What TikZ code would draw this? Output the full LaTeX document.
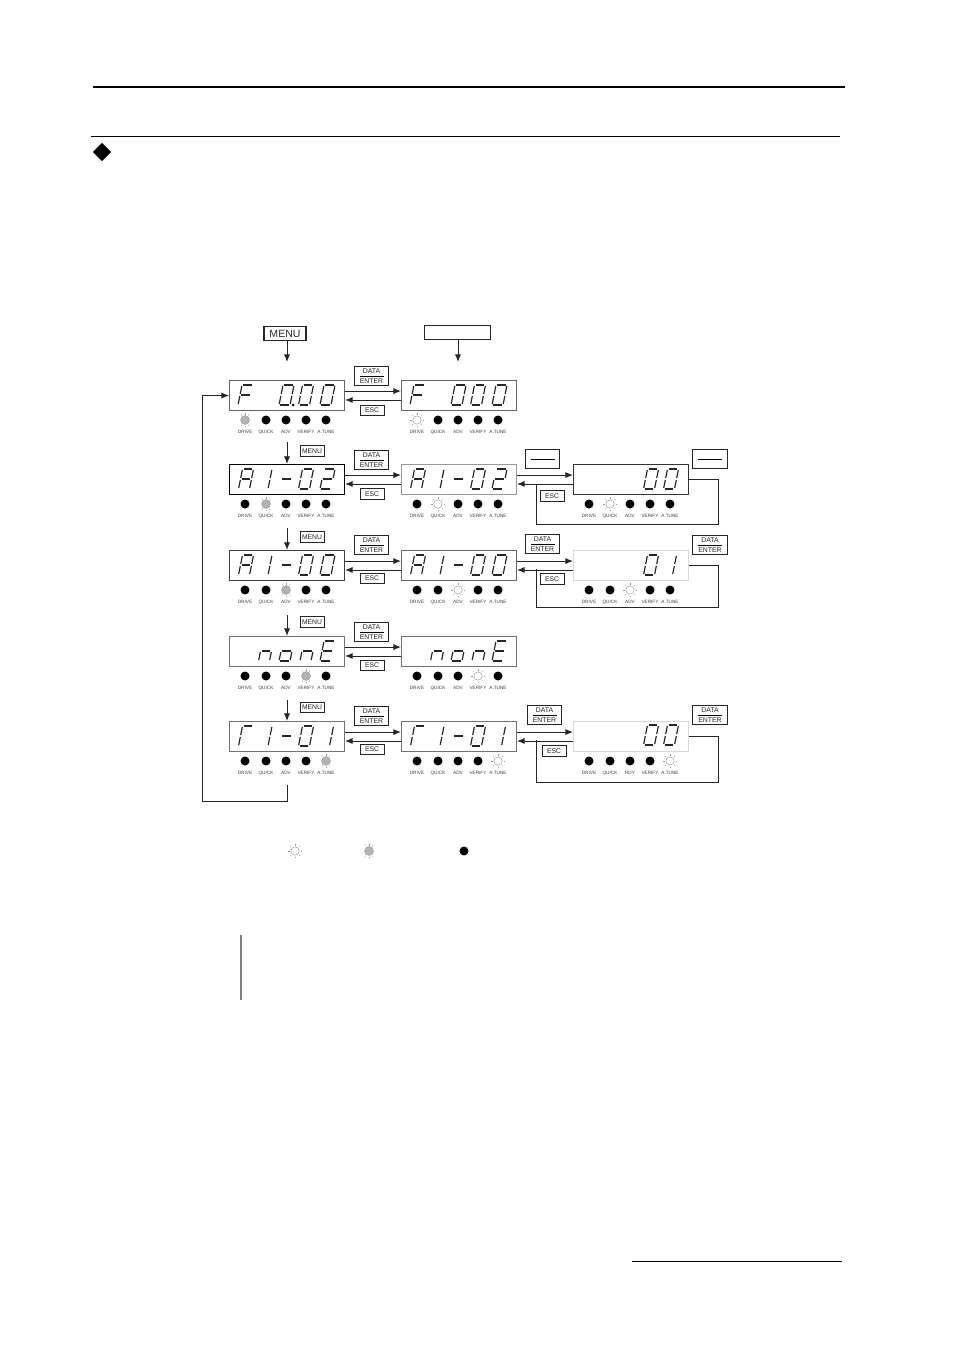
\documentclass[tikz,border=0pt]{standalone}
\usepackage{fontspec}
\setmainfont{Liberation Sans}
\usetikzlibrary{calc}
\usetikzlibrary{arrows.meta}
\usetikzlibrary{shapes.geometric}

\tikzset{
    dispbox/.style={draw=#1, line width=.9pt, anchor=north west, minimum width=3.45cm, minimum height=.9cm, inner sep=0},
    dispbox/.default={black!60},
    btnbig/.style={draw, line width=1.1pt, black!85, minimum width=1.26cm, minimum height=.44cm, inner sep=0, font=\fontsize{9}{9}\selectfont},
    btnsmall/.style={draw, line width=.8pt, black!85, minimum width=.72cm, minimum height=.32cm, inner sep=0, font=\fontsize{5.8}{6}\selectfont},
    btndata/.style={draw, line width=.9pt, black!85, minimum width=1.04cm, minimum height=.58cm, inner sep=0, align=center, font=\fontsize{5.9}{8.2}\selectfont},
    ledsegm/.style={line width=1pt, black!85},
    ledoff/.style={circle, fill=black, minimum size=.27cm, inner sep=0},
    ledgray/.style={circle, fill=black!30, draw=black!40, line width=.3pt, minimum size=.27cm, inner sep=0},
    ledblink/.style={circle, fill=white, draw=black!50, line width=.3pt, minimum size=.25cm, inner sep=0},
    ledray/.style={line width=.3pt, black!40},
    ledtext/.style={inner sep=0, text=black!75, font=\fontsize{4}{4}\selectfont},
    keyarrow/.style={line width=.75pt, black!85, -{Latex[length=6.5pt, width=5.2pt]}},
    keyline/.style={line width=.75pt, black!85},
}

% segments of one display character
\newcommand{\sega}{(-4.4,-10) -- (4.4,-10)}
\newcommand{\segb}{(5.5,-9) -- (5.5,-1)}
\newcommand{\segc}{(5.5,1) -- (5.5,9)}
\newcommand{\segd}{(-4.4,10) -- (4.4,10)}
\newcommand{\sege}{(-5.5,1) -- (-5.5,9)}
\newcommand{\segf}{(-5.5,-9) -- (-5.5,-1)}
\newcommand{\segg}{(-4.4,0) -- (4.4,0)}
\newcommand{\chzero}{a,b,c,d,e,f}
\newcommand{\chone}{b,c}
\newcommand{\ledchar}[3]{\begin{scope}[shift={(#1,#2)}, xslant=.2]
    \edef\sglist{#3}
    \foreach \sgm in \sglist {\draw[ledsegm] \csname seg\sgm\endcsname;}
\end{scope}}

% ray directions of the two lit lamps
\newcommand{\raysledgray}{55,90,125,235,270,305}
\newcommand{\raysledblink}{0,45,...,315}
\newcommand{\ledrays}[2]{\edef\raylist{#2}
    \foreach \a in \raylist {\draw[ledray] ($(#1)+(\a:5.5)$) -- ($(#1)+(\a:7.2)$);}}

% row of five lamps under a display: name, x, y, lit lamp, its style, third label
\newcommand{\ledrow}[6]{\foreach \i/\dx/\lb in {1/16/DRIVE,2/37/QUICK,3/57/#6,4/77/VERIFY,5/97/A.TUNE} {
    \ifnum\i=#4 \def\ledst{#5}\else\def\ledst{ledoff}\fi
    \node[\ledst] (#1-\i) at (#2+\dx,#3+40) {};
    \node[ledtext] (#1-t\i) at (#2+\dx,#3+52) {\lb};
    \ifnum\i=#4 \ledrays{#1-\i}{\csname rays#5\endcsname}\fi
}}

\newcommand{\databtn}[4]{\node[btndata] (#1) at (#2,#3) {#4};
    \draw[line width=.6pt] ($(#1)+(-12,0)$) -- ($(#1)+(12,0)$);}

% arrows between two displays of one row
\newcommand{\rowarrows}[2]{\draw[keyarrow] ([yshift=3.8pt]#1.east) -- ([yshift=3.8pt]#2.west);
    \draw[keyarrow] ([yshift=-3.8pt]#2.west) -- ([yshift=-3.8pt]#1.east);}

\begin{document}
\begin{tikzpicture}[x=.03cm, y=-.03cm]
    \useasboundingbox (0,0) rectangle (954,1351);

    % page rules
    \draw[line width=1.7pt] (93,87) -- (845,87);
    \draw[line width=.8pt] (91,136.5) -- (840,136.5);
    \node[diamond, fill=black, minimum size=.55cm, inner sep=0] (mark) at (102,152) {};
    \draw[line width=.8pt] (632,1261) -- (842,1261);
    \draw[line width=2.4pt, black!50] (241,935) -- (241,1000);

    % displays
    \node[dispbox] (d1a) at (229,380) {};
    \node[dispbox] (d1b) at (401,380) {};
    \node[dispbox=black] (d2a) at (229,464) {};
    \node[dispbox=black!40] (d2b) at (401,464) {};
    \node[dispbox=black!80] (d2c) at (573,464) {};
    \node[dispbox=black!75] (d3a) at (229,550) {};
    \node[dispbox] (d3b) at (401,550) {};
    \node[dispbox=black!15] (d3c) at (573,550) {};
    \node[dispbox=black!55] (d4a) at (229,636) {};
    \node[dispbox=black!55] (d4b) at (401,636) {};
    \node[dispbox=black!55] (d5a) at (229,721) {};
    \node[dispbox=black!55] (d5b) at (401,721) {};
    \node[dispbox=black!15] (d5c) at (573,721) {};

    % display texts
    \foreach \x in {229,401} {
        \ledchar{\x+16.5}{395}{a,f,g,e}
        \ledchar{\x+57.5}{395}{\chzero}
        \ledchar{\x+77}{395}{\chzero}
        \ledchar{\x+98.5}{395}{\chzero}
        \ledchar{\x+17}{479}{a,b,c,e,f,g}
        \ledchar{\x+35.5}{479}{\chone}
        \ledchar{\x+57.5}{479}{g}
        \ledchar{\x+77}{479}{\chzero}
        \ledchar{\x+98.5}{479}{a,b,g,e,d}
        \ledchar{\x+17}{565}{a,b,c,e,f,g}
        \ledchar{\x+35.5}{565}{\chone}
        \ledchar{\x+57.5}{565}{g}
        \ledchar{\x+77}{565}{\chzero}
        \ledchar{\x+98.5}{565}{\chzero}
        \ledchar{\x+37}{651}{e,g,c}
        \ledchar{\x+57.5}{651}{e,g,c,d}
        \ledchar{\x+78.5}{651}{e,g,c}
        \ledchar{\x+98.5}{651}{a,f,g,e,d}
        \ledchar{\x+17}{736}{a,f,e}
        \ledchar{\x+35.5}{736}{\chone}
        \ledchar{\x+57.5}{736}{g}
        \ledchar{\x+77}{736}{\chzero}
        \ledchar{\x+97}{736}{\chone}
    }
    \fill (293,405) circle (.045cm);
    \ledchar{651}{479}{\chzero}
    \ledchar{671}{479}{\chzero}
    \ledchar{651}{565}{\chzero}
    \ledchar{669}{565}{\chone}
    \ledchar{651}{735}{\chzero}
    \ledchar{671}{735}{\chzero}

    % lamps
    \ledrow{d1a}{229}{380}{1}{ledgray}{ADV}
    \ledrow{d1b}{401}{380}{1}{ledblink}{ADV}
    \ledrow{d2a}{229}{464}{2}{ledgray}{ADV}
    \ledrow{d2b}{401}{464}{2}{ledblink}{ADV}
    \ledrow{d2c}{573}{464}{2}{ledblink}{ADV}
    \ledrow{d3a}{229}{550}{3}{ledgray}{ADV}
    \ledrow{d3b}{401}{550}{3}{ledblink}{ADV}
    \ledrow{d3c}{573}{550}{3}{ledblink}{ADV}
    \ledrow{d4a}{229}{636}{4}{ledgray}{ADV}
    \ledrow{d4b}{401}{636}{4}{ledblink}{ADV}
    \ledrow{d5a}{229}{721}{5}{ledgray}{ADV}
    \ledrow{d5b}{401}{721}{5}{ledblink}{ADV}
    \ledrow{d5c}{573}{721}{5}{ledblink}{RDY}

    % legend lamps
    \node[ledblink] (lega) at (295,851) {};
    \ledrays{lega}{\raysledblink}
    \node[ledgray] (legb) at (369,851) {};
    \ledrays{legb}{\raysledgray}
    \node[ledoff] (legc) at (464,851) {};

    % keys at the top
    \node[btnbig] (menutop) at (285,333.5) {MENU};
    \node[btnbig, minimum width=2cm, minimum height=.4cm] (blanktop) at (457.5,332.5) {};
    \coordinate (menuend) at (287,362);
    \coordinate (blankend) at (458,362);
    \draw[keyarrow] (menuend |- menutop.south) -- (menuend);
    \draw[keyarrow] (blankend |- blanktop.south) -- (blankend);

    % keys between the columns
    \databtn{k1}{371.5}{376}{DATA\\ENTER}
    \databtn{k2}{371.5}{460}{DATA\\ENTER}
    \databtn{k3}{371.5}{545}{DATA\\ENTER}
    \databtn{k4}{371.5}{632}{DATA\\ENTER}
    \databtn{k5}{371.5}{716}{DATA\\ENTER}
    \databtn{k6}{542.5}{459}{}
    \databtn{k7}{710}{459}{}
    \databtn{k8}{542.5}{544}{DATA\\ENTER}
    \databtn{k9}{710}{545}{DATA\\ENTER}
    \databtn{k10}{544.5}{715}{DATA\\ENTER}
    \databtn{k11}{710}{715}{DATA\\ENTER}
    \node[btnsmall] (esc1) at (372,410.5) {ESC};
    \node[btnsmall] (esc2) at (372,494) {ESC};
    \node[btnsmall] (esc3) at (372,578.5) {ESC};
    \node[btnsmall] (esc4) at (372,665.5) {ESC};
    \node[btnsmall] (esc5) at (372,749.5) {ESC};
    \node[btnsmall] (esc6) at (552,496) {ESC};
    \node[btnsmall] (esc7) at (552,579) {ESC};
    \node[btnsmall] (esc8) at (554,751) {ESC};
    \node[btnsmall] (menu2) at (312,451) {MENU};
    \node[btnsmall] (menu3) at (312,537) {MENU};
    \node[btnsmall] (menu4) at (312,622) {MENU};
    \node[btnsmall] (menu5) at (312,707.5) {MENU};

    % arrows between the displays
    \rowarrows{d1a}{d1b}
    \rowarrows{d2a}{d2b}
    \rowarrows{d2b}{d2c}
    \rowarrows{d3a}{d3b}
    \rowarrows{d3b}{d3c}
    \rowarrows{d4a}{d4b}
    \rowarrows{d5a}{d5b}
    \rowarrows{d5b}{d5c}

    % arrows down the first column
    \coordinate (dn2) at (287,442);
    \coordinate (dn3) at (287,528);
    \coordinate (dn4) at (287,615);
    \coordinate (dn5) at (287,700);
    \draw[keyarrow] (dn2) -- (dn2 |- d2a.north);
    \draw[keyarrow] (dn3) -- (dn3 |- d3a.north);
    \draw[keyarrow] (dn4) -- (dn4 |- d4a.north);
    \draw[keyarrow] (dn5) -- (dn5 |- d5a.north);

    % return line to the first display
    \coordinate (backa) at (287,785);
    \coordinate (backb) at (202,801);
    \draw[keyarrow] (backa) |- (backb) |- (d1a.west);

    % loops round the third column
    \coordinate (lp2a) at (718,524);
    \coordinate (lp2b) at (536,484);
    \coordinate (lp3a) at (718,607);
    \coordinate (lp3b) at (536,569);
    \coordinate (lp5a) at (718,782);
    \coordinate (lp5b) at (536,740);
    \draw[keyline] (d2c.east) -| (lp2a) -| (lp2b);
    \draw[keyline] (d3c.east) -| (lp3a) -| (lp3b);
    \draw[keyline] (d5c.east) -| (lp5a) -| (lp5b);
\end{tikzpicture}
\end{document}
